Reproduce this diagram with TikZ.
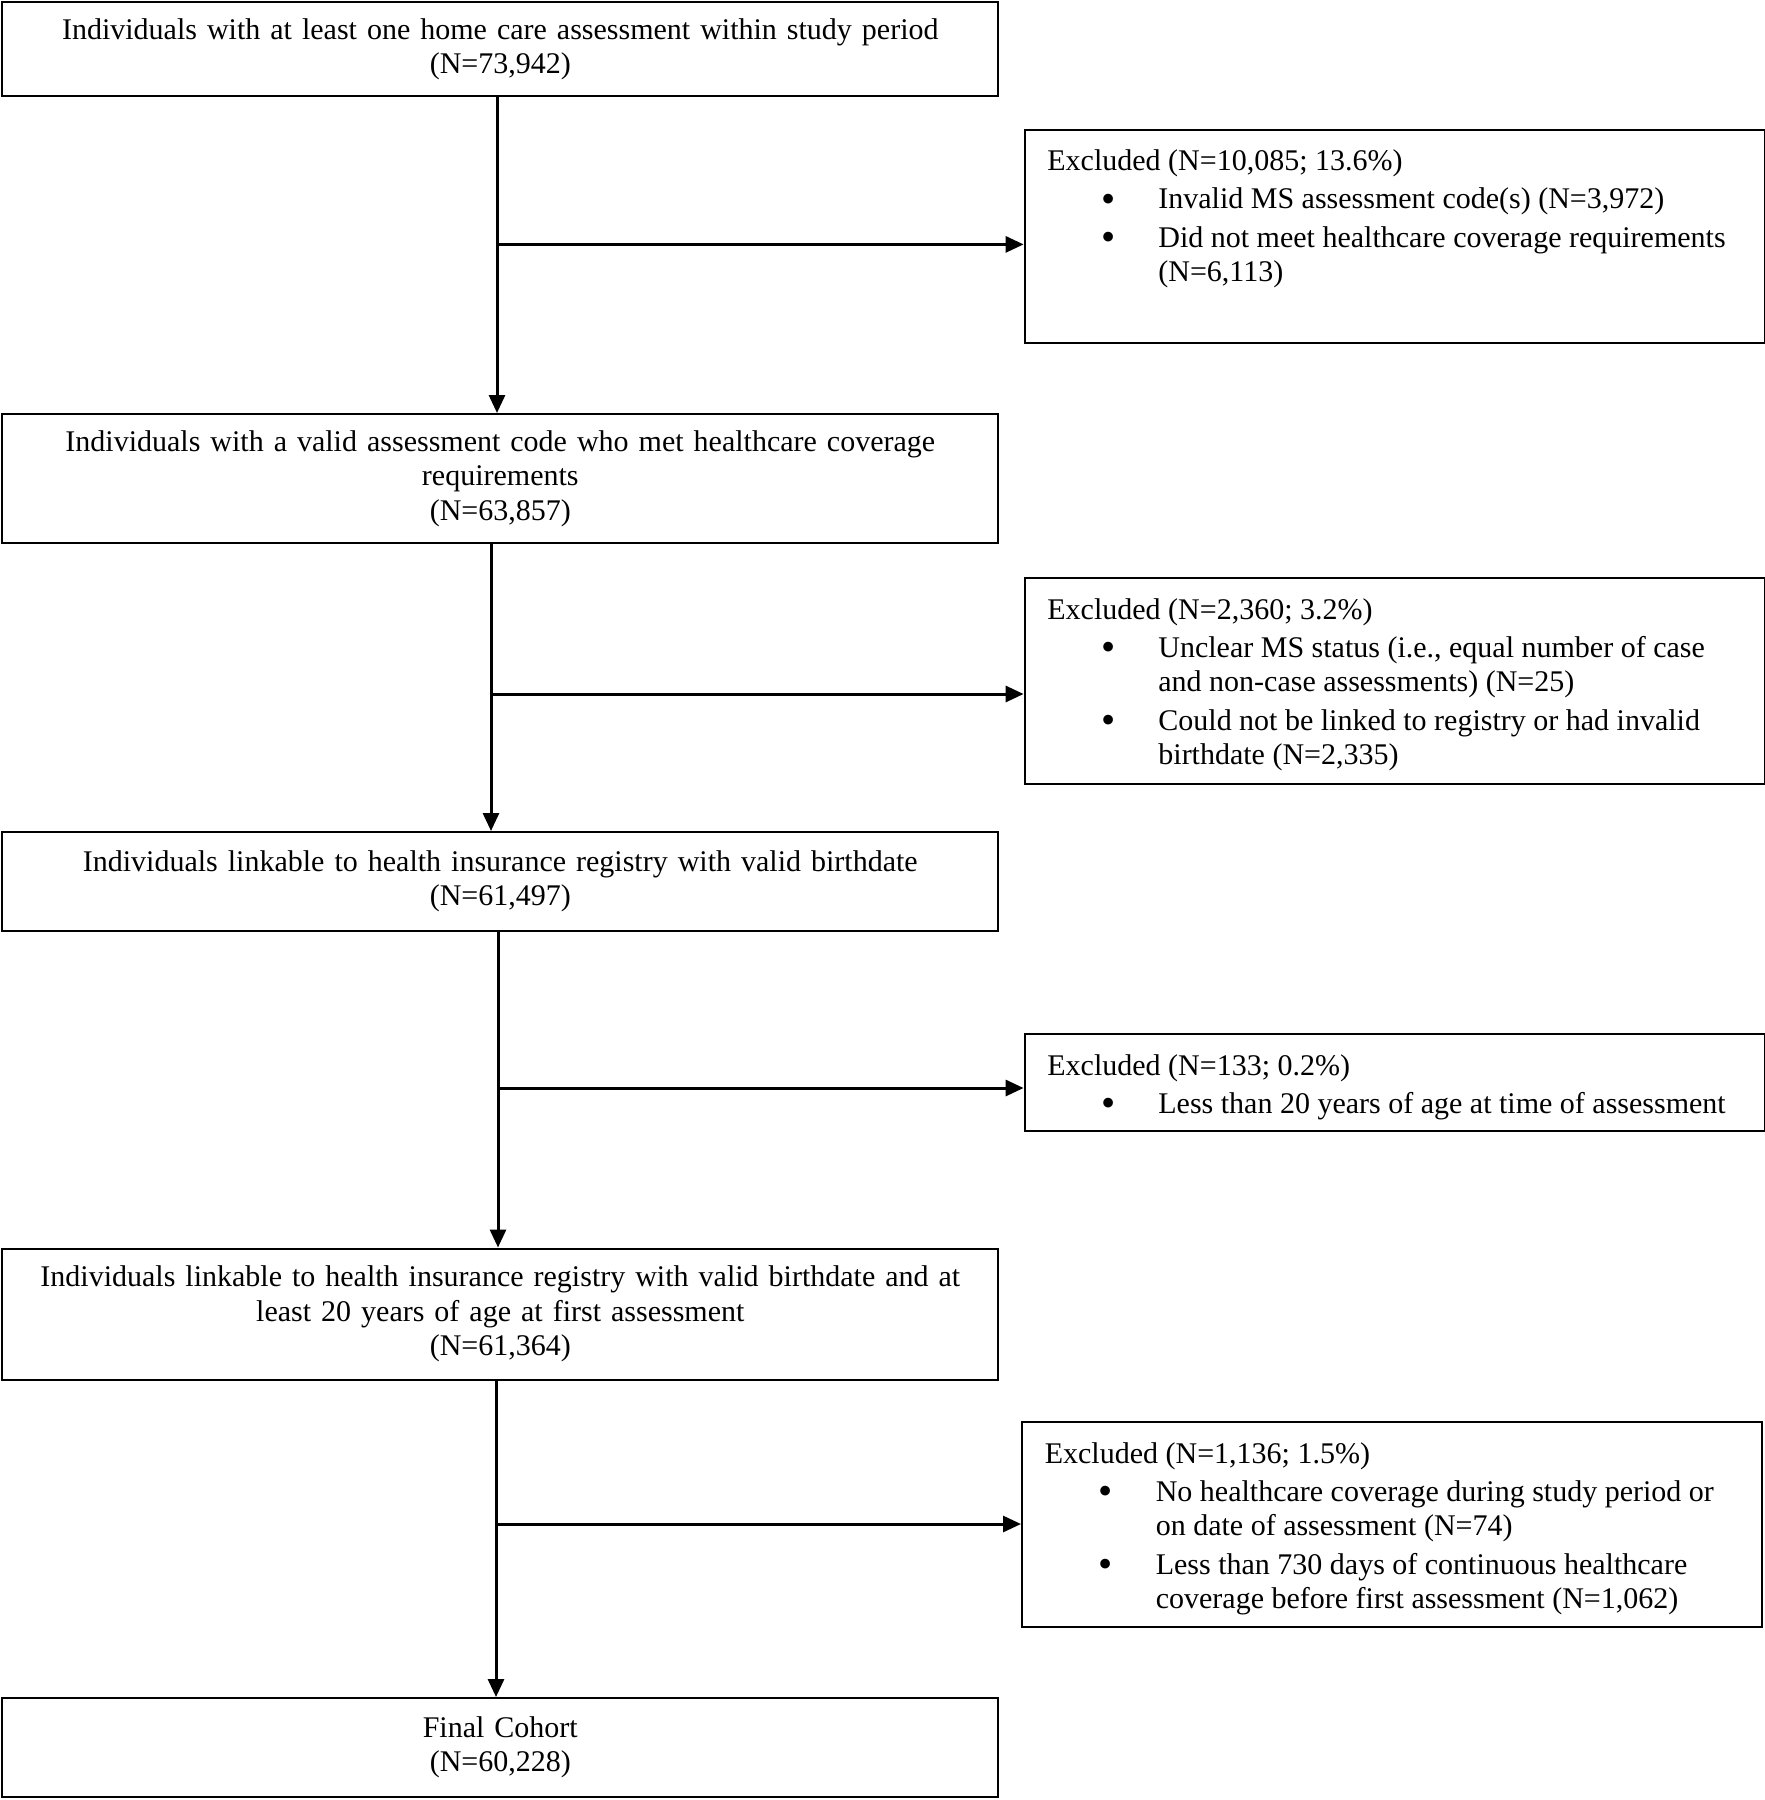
\documentclass[tikz,border=0pt]{standalone}
\usepackage{fontspec}
\setmainfont{Liberation Serif}
\usetikzlibrary{arrows.meta}
\newcommand{\fsz}{\fontsize{15}{17.2}\selectfont}
\newcommand{\bul}{\raisebox{-1.6pt}{\scalebox{1.35}{\textbullet}}}
\tikzset{
  stage/.style={draw, line width=1pt, minimum width=498pt, text width=490pt, align=center, inner sep=0pt, font=\fsz},
  exbox/.style={draw, line width=1pt, minimum width=370pt, anchor=north west, inner sep=0pt},
  extext/.style={anchor=base west, inner sep=0pt, font=\fsz},
  arr/.style={-{Triangle[length=9pt,width=8pt]}, line width=1.5pt},
}
\begin{document}
\begin{tikzpicture}[x=0.5pt, y=-0.5pt]
\useasboundingbox (0,0) rectangle (1765,1800);
% main stages
\node[stage, minimum height=47pt] (b1) at (500.3,49.4) {Individuals with at least one home care assessment within study period\\(N=73,942)};
\node[stage, minimum height=64.5pt] (b2) at (500.3,478.5) {Individuals with a valid assessment code who met healthcare coverage\\requirements\\(N=63,857)};
\node[stage, minimum height=49.5pt] (b3) at (500.3,881.5) {Individuals linkable to health insurance registry with valid birthdate\\(N=61,497)};
\node[stage, minimum height=65.5pt] (b4) at (500.3,1314) {Individuals linkable to health insurance registry with valid birthdate and at\\least 20 years of age at first assessment\\(N=61,364)};
\node[stage, minimum height=49.5pt] (b5) at (500.3,1747.5) {Final Cohort\\(N=60,228)};
% exclusions
\node[exbox, minimum height=106.75pt] (ex1) at (1023.6,128.5) {};
\node[extext] (ex1t) at ([xshift=11.7pt, yshift=-21pt]ex1.north west) {\begin{tabular}[t]{@{\hspace{27pt}}p{28.5pt}@{}l@{}}
\multicolumn{2}{@{}l@{}}{Excluded (N=10,085; 13.6\%)}\\[2pt]
\bul & Invalid MS assessment code(s) (N=3,972)\\[2pt]
\bul & Did not meet healthcare coverage requirements\\
& (N=6,113)
\end{tabular}};
\node[exbox, minimum height=103pt] (ex2) at (1023.6,577) {};
\node[extext] (ex2t) at ([xshift=11.7pt, yshift=-21pt]ex2.north west) {\begin{tabular}[t]{@{\hspace{27pt}}p{28.5pt}@{}l@{}}
\multicolumn{2}{@{}l@{}}{Excluded (N=2,360; 3.2\%)}\\[2pt]
\bul & Unclear MS status (i.e., equal number of case\\
& and non-case assessments) (N=25)\\[2pt]
\bul & Could not be linked to registry or had invalid\\
& birthdate (N=2,335)
\end{tabular}};
\node[exbox, minimum height=48.5pt] (ex3) at (1023.6,1033) {};
\node[extext] (ex3t) at ([xshift=11.7pt, yshift=-21pt]ex3.north west) {\begin{tabular}[t]{@{\hspace{27pt}}p{28.5pt}@{}l@{}}
\multicolumn{2}{@{}l@{}}{Excluded (N=133; 0.2\%)}\\[2pt]
\bul & Less than 20 years of age at time of assessment
\end{tabular}};
\node[exbox, minimum height=102.5pt] (ex4) at (1021,1421) {};
\node[extext] (ex4t) at ([xshift=11.7pt, yshift=-21pt]ex4.north west) {\begin{tabular}[t]{@{\hspace{27pt}}p{28.5pt}@{}l@{}}
\multicolumn{2}{@{}l@{}}{Excluded (N=1,136; 1.5\%)}\\[2pt]
\bul & No healthcare coverage during study period or\\
& on date of assessment (N=74)\\[2pt]
\bul & Less than 730 days of continuous healthcare\\
& coverage before first assessment (N=1,062)
\end{tabular}};
% junctions
\coordinate (j1) at (497,244.4);
\coordinate (j2) at (491,694);
\coordinate (j3) at (498,1088);
\coordinate (j4) at (496,1524);
% connectors
\draw[arr] (j1 |- b1.south) -- (j1 |- b2.north);
\draw[arr] (j1) -- (j1 -| ex1.west);
\draw[arr] (j2 |- b2.south) -- (j2 |- b3.north);
\draw[arr] (j2) -- (j2 -| ex2.west);
\draw[arr] (j3 |- b3.south) -- (j3 |- b4.north);
\draw[arr] (j3) -- (j3 -| ex3.west);
\draw[arr] (j4 |- b4.south) -- (j4 |- b5.north);
\draw[arr] (j4) -- (j4 -| ex4.west);
\end{tikzpicture}
\end{document}
